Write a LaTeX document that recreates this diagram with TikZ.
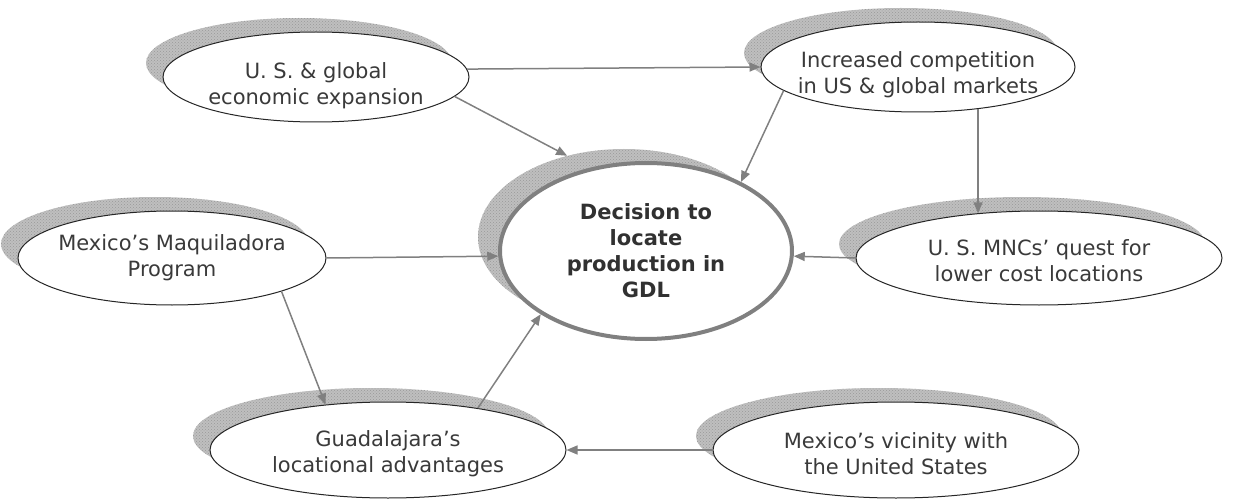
\documentclass[tikz,border=0pt]{standalone}
\usepackage{fontspec}
\setmainfont{DejaVu Sans}
\usetikzlibrary{arrows.meta,patterns,shapes.geometric}
\definecolor{inkgray}{HTML}{3A3A3A}
\definecolor{linegray}{HTML}{808080}
\begin{document}
\begin{tikzpicture}[x=1pt,y=-1pt,
  bubble/.style={ellipse, draw=black!85, line width=1pt, fill=white, inner sep=0pt},
  core/.style={ellipse, draw=linegray, line width=4pt, fill=white, inner sep=0pt},
  caption/.style={align=center, inner sep=0pt, text=inkgray, font=\fontsize{21}{26}\selectfont},
  corecaption/.style={caption, text=inkgray!85!black, font=\fontsize{21}{26}\selectfont\bfseries},
  haze/.style={ellipse, inner sep=0pt, fill=gray!50,
    postaction={pattern=crosshatch dots, pattern color=gray!80}},
  link/.style={draw=linegray, line width=1.5pt, -{Triangle[length=11pt,width=9pt]}}]
\useasboundingbox (0,0) rectangle (1243,500);

% stippled shadows, offset up and to the left
\node[haze, minimum width=306pt, minimum height=90pt] (s1) at (299,63) {};
\node[haze, minimum width=314pt, minimum height=90pt] (s2) at (901,53) {};
\node[haze, minimum width=292pt, minimum height=176pt] (sc) at (624,237) {};
\node[haze, minimum width=366pt, minimum height=94pt] (s3) at (1022,244) {};
\node[haze, minimum width=308pt, minimum height=94pt] (s4) at (155,244) {};
\node[haze, minimum width=356pt, minimum height=96pt] (s5) at (371,436) {};
\node[haze, minimum width=366pt, minimum height=96pt] (s6) at (879,436) {};

% ellipses
\node[bubble, minimum width=306pt, minimum height=90pt] (e1) at (316,77) {};
\node[bubble, minimum width=314pt, minimum height=90pt] (e2) at (918,67) {};
\node[core,   minimum width=292pt, minimum height=176pt] (ec) at (646,251) {};
\node[bubble, minimum width=366pt, minimum height=94pt] (e3) at (1039,258) {};
\node[bubble, minimum width=308pt, minimum height=94pt] (e4) at (172,258) {};
\node[bubble, minimum width=356pt, minimum height=96pt] (e5) at (388,450) {};
\node[bubble, minimum width=366pt, minimum height=96pt] (e6) at (896,450) {};

% captions
\node[caption] (t1) at ([yshift=-9pt]e1.center) {U. S. \& global\\economic expansion};
\node[caption] (t2) at ([yshift=-8pt]e2.center) {Increased competition\\in US \& global markets};
\node[corecaption] (tc) at (ec.center) {Decision to\\locate\\production in\\GDL};
\node[caption] (t3) at ([yshift=-3pt]e3.center) {U. S. MNCs’ quest for\\lower cost locations};
\node[caption] (t4) at (e4.center) {Mexico’s Maquiladora\\Program};
\node[caption] (t5) at ([yshift=-4pt]e5.center) {Guadalajara’s\\locational advantages};
\node[caption] (t6) at ([yshift=-4pt]e6.center) {Mexico’s vicinity with\\the United States};

% connectors
\draw[link] (e1.3.8) -- (e2.west);
\draw[link] (e1.-8.9) -- (sc.125.8);
\draw[link] (e2.190.2) -- (ec.36.5);
\draw[link] (e2.-35.3) -- (e2.-35.3 |- e3.144.2);
\draw[link] (e3.west) -- (ec.-2.76);
\draw[link] (e4.east) -- (ec.182.76);
\draw[link] (e4.-17.4) -- (e5.144.2);
\draw[link] (e5.25.7) -- (ec.211);
\draw[link] (e6.west) -- (e5.east);
\end{tikzpicture}
\end{document}
